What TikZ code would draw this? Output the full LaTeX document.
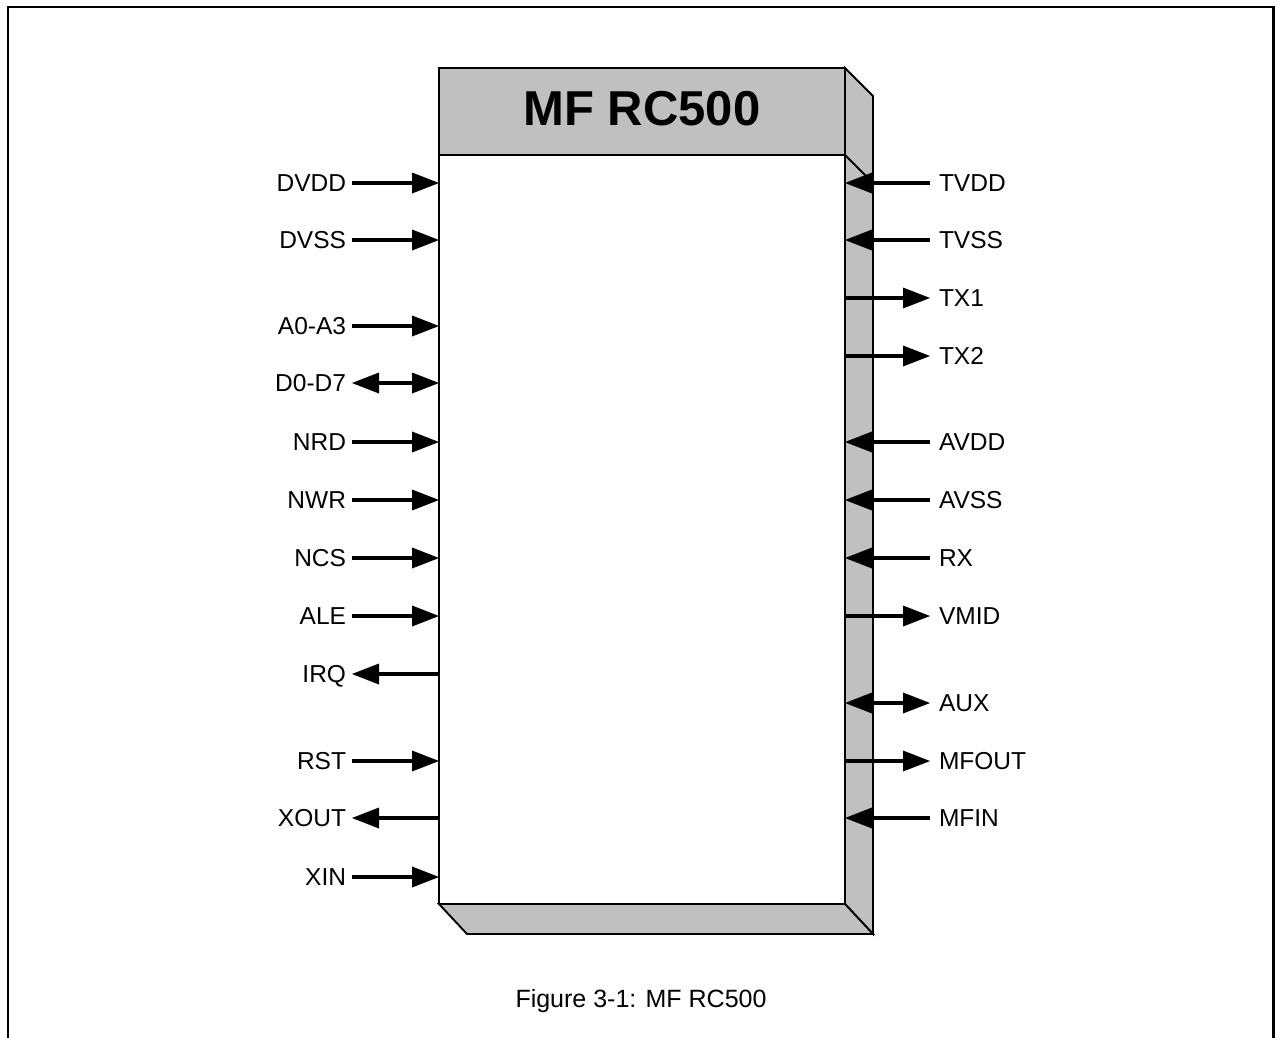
\documentclass[tikz,border=0pt]{standalone}
\usepackage{fontspec}
\setmainfont{Liberation Sans}
\usetikzlibrary{arrows.meta}
\definecolor{chipgray}{HTML}{C0C0C0}
\begin{document}
\begin{tikzpicture}[x=1pt,y=-1pt,
  face/.style={draw=black,line width=1.9pt,line join=miter,fill=chipgray},
  pin/.style={line width=3.3pt},
  tip/.tip={Triangle[length=27pt,width=21pt,line width=0pt]},
  lbl/.style={font=\fontsize{24.5}{28}\selectfont,text height=17.5pt,text depth=0pt,inner ysep=0pt,outer sep=0pt},
  lpin/.style={lbl,anchor=east,inner xsep=6pt},
  rpin/.style={lbl,anchor=west,inner xsep=9pt}
]
\useasboundingbox (0,0) rectangle (1275,1037);
% outer frame (open at the bottom)
\draw[line width=2.4pt] (8,1045) -- (8,7) -- (1273.5,7) -- (1273.5,1045);

% 3D chip body
\draw[face] (845,68) -- (873,96) -- (873,934) -- (845,904) -- cycle;
\draw[face] (439,904) -- (845,904) -- (873,934) -- (467,934) -- cycle;
\node[face,fill=white,anchor=north west,minimum width=406pt,minimum height=749pt,inner sep=0pt,outer sep=0pt] (body) at (439,155) {};
\node[face,anchor=north west,minimum width=406pt,minimum height=87pt,inner sep=0pt,outer sep=0pt] (header) at (439,68) {};
\draw[line width=1.9pt] (body.north east) -- (873,183);
\node[font=\bfseries\fontsize{49}{55}\selectfont,anchor=base,inner sep=0pt] (title) at (642,125) {MF RC500};

% left pins
\node[lpin] (dvdd) at (352,183) {DVDD};
\node[lpin] (dvss) at (352,240) {DVSS};
\node[lpin] (a03)  at (352,326) {A0-A3};
\node[lpin] (d07)  at (352,383) {D0-D7};
\node[lpin] (nrd)  at (352,442) {NRD};
\node[lpin] (nwr)  at (352,500) {NWR};
\node[lpin] (ncs)  at (352,558) {NCS};
\node[lpin] (ale)  at (352,616) {ALE};
\node[lpin] (irq)  at (352,674) {IRQ};
\node[lpin] (rst)  at (352,761) {RST};
\node[lpin] (xout) at (352,818) {XOUT};
\node[lpin] (xin)  at (352,877) {XIN};

\foreach \n in {dvdd,dvss,a03,nrd,nwr,ncs,ale,rst,xin}
  \draw[pin,-tip] (\n) -- (\n -| body.west);
\draw[pin,tip-tip] (d07) -- (d07 -| body.west);
\foreach \n in {irq,xout}
  \draw[pin,-tip] (\n -| body.west) -- (\n);

% right pins
\node[rpin] (tvdd)  at (930,183) {TVDD};
\node[rpin] (tvss)  at (930,240) {TVSS};
\node[rpin] (tx1)   at (930,298) {TX1};
\node[rpin] (tx2)   at (930,356) {TX2};
\node[rpin] (avdd)  at (930,442) {AVDD};
\node[rpin] (avss)  at (930,500) {AVSS};
\node[rpin] (rx)    at (930,558) {RX};
\node[rpin] (vmid)  at (930,616) {VMID};
\node[rpin] (aux)   at (930,703) {AUX};
\node[rpin] (mfout) at (930,761) {MFOUT};
\node[rpin] (mfin)  at (930,818) {MFIN};

\foreach \n in {tvdd,tvss,avdd,avss,rx,mfin}
  \draw[pin,-tip] (\n) -- (\n -| body.east);
\foreach \n in {tx1,tx2,vmid,mfout}
  \draw[pin,-tip] (\n -| body.east) -- (\n);
\draw[pin,tip-tip] (aux -| body.east) -- (aux);

% caption
\node[font=\fontsize{25}{30}\selectfont,text height=17.9pt,text depth=0pt,inner sep=0pt] (caption) at (641,999) {Figure 3-1: MF RC500};
\end{tikzpicture}
\end{document}
